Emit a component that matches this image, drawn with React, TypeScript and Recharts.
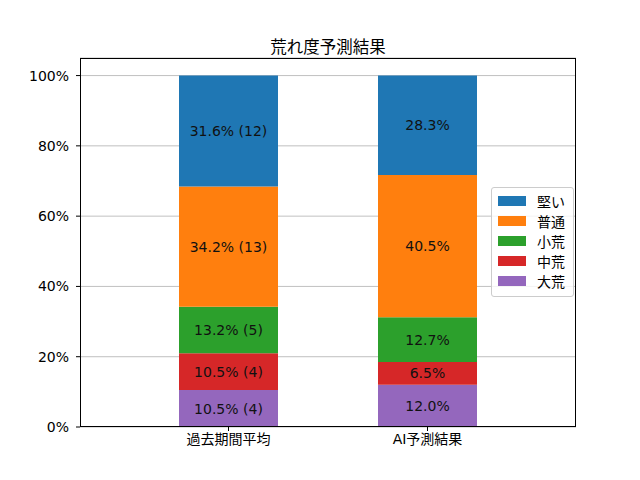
import { BarChart, Bar, XAxis, YAxis, CartesianGrid, LabelList } from 'recharts'

const categories = ['過去期間平均', 'AI予測結果']
// stack order, bottom to top
const seriesNames = ['大荒', '中荒', '小荒', '普通', '堅い']
const seriesColors = ['#9467bd', '#d62728', '#2ca02c', '#ff7f0e', '#1f77b4']
const pastPct = [10.5, 10.5, 13.2, 34.2, 31.6]
const pastCounts = [4, 4, 5, 13, 12]
const aiPct = [12.0, 6.5, 12.7, 40.5, 28.3]
const yTicks = [0, 20, 40, 60, 80, 100]

const FONT = '"DejaVu Sans", "Noto Sans CJK JP", sans-serif'

const data = categories.map((name, ci) => {
  const row: Record<string, string | number> = { name }
  seriesNames.forEach((s, si) => {
    const v = ci === 0 ? pastPct[si] : aiPct[si]
    row[s] = v
    row[s + '_label'] = ci === 0 ? `${v.toFixed(1)}% (${pastCounts[si]})` : `${v.toFixed(1)}%`
  })
  return row
})

function LegendBox() {
  const items = seriesNames.map((s, i) => ({ s, c: seriesColors[i] })).reverse()
  return (
    <div
      style={{
        position: 'absolute',
        left: 491,
        top: 187,
        border: '1px solid #cccccc',
        borderRadius: 3,
        background: 'rgba(255,255,255,0.8)',
        padding: '3px 8px 5px 6px',
        fontFamily: FONT,
        fontSize: 14,
        color: '#000',
      }}
    >
      {items.map(({ s, c }) => (
        <div key={s} style={{ display: 'flex', alignItems: 'center', height: 20 }}>
          <div style={{ width: 28, height: 10, background: c, marginRight: 11 }} />
          <span>{s}</span>
        </div>
      ))}
    </div>
  )
}

export default function App() {
  return (
    <div style={{ position: 'absolute', left: 0, top: 0, width: 640, height: 480, background: '#fff' }}>
      <div
        style={{
          position: 'absolute',
          left: 80,
          width: 496,
          top: 34,
          textAlign: 'center',
          fontFamily: FONT,
          fontSize: 16.5,
          color: '#000',
        }}
      >
        荒れ度予測結果
      </div>
      <BarChart
        width={640}
        height={480}
        data={data}
        margin={{ top: 58, right: 64, bottom: 0, left: 0 }}
        barSize={99}
      >
        <CartesianGrid vertical={false} stroke="#b0b0b0" strokeWidth={0.8} />
        <XAxis
          dataKey="name"
          height={53}
          padding={{ left: 49, right: 49 }}
          tickSize={4}
          tickMargin={3}
          axisLine={false}
          tickLine={{ stroke: '#000' }}
          tick={{ fill: '#000', fontSize: 14, fontFamily: FONT }}
        />
        <YAxis
          width={80}
          domain={[0, 105]}
          ticks={yTicks}
          tickFormatter={(v) => `${v}%`}
          tickSize={4}
          tickMargin={7}
          axisLine={false}
          tickLine={{ stroke: '#000' }}
          tick={{ fill: '#000', fontSize: 14, fontFamily: FONT }}
          allowDataOverflow
        />
        {seriesNames.map((s, i) => (
          <Bar key={s} dataKey={s} stackId="a" fill={seriesColors[i]} isAnimationActive={false}>
            <LabelList
              dataKey={s + '_label'}
              position="center"
              fill="#111"
              fontSize={14}
              fontFamily={FONT}
            />
          </Bar>
        ))}
      </BarChart>
      <div
        style={{
          position: 'absolute',
          left: 80,
          top: 58,
          width: 496,
          height: 369,
          boxSizing: 'border-box',
          border: '1px solid #000',
          pointerEvents: 'none',
        }}
      />
      <LegendBox />
    </div>
  )
}
